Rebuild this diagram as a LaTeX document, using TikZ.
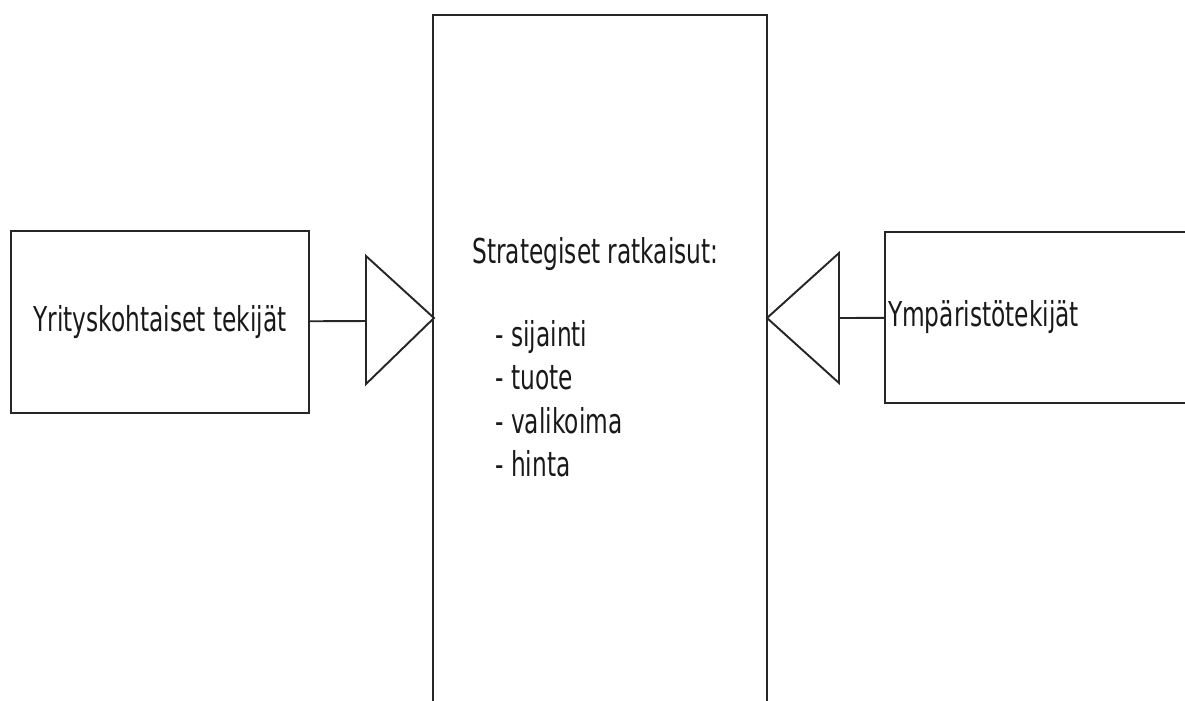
\documentclass[tikz,border=0pt]{standalone}
\usepackage{fontspec}
\setmainfont{DejaVu Sans}[FakeStretch=0.68]
\usetikzlibrary{positioning}
\tikzset{
  >=latex,
}
\tikzstyle{laatikko}=[draw=black!85,line width=1.1pt,rectangle,inner sep=0pt]
\tikzstyle{viiva}=[draw=black!85,line width=1.1pt,line join=miter]
\tikzstyle{teksti}=[inner sep=0pt]
\tikzstyle{every node}=[font=\fontsize{19.5}{24.5}\selectfont,text=black!90]

\begin{document}
\begin{tikzpicture}[x=0.02cm,y=-0.02cm]
    \useasboundingbox (0,0) rectangle (1185,700);
    \node[laatikko,minimum width=5.96cm,minimum height=3.64cm] (yritys) at (160,322) {Yrityskohtaiset tekijät};
    \node[laatikko,minimum width=6.68cm,minimum height=14.2cm] (keski) at (600,370) {};
    \node[laatikko,minimum height=3.42cm,text width=6.18cm,inner xsep=0.06cm,align=left] (ymparisto) at (1042.5,317.5) {Ympäristötekijät};
    \node[teksti,anchor=base west] (otsikko) at (472,263) {Strategiset ratkaisut:};
    \foreach \kohta [count=\i] in {sijainti,tuote,valikoima,hinta}
      \node[teksti,anchor=base west] (kohta\i) at (495,302.5+43.5*\i) {- \kohta};
    % kolmiot keskilaatikon reunoilla
    \coordinate (kanta1) at (366,321);
    \coordinate (kanta2) at (839,318);
    \draw[viiva] (366,256) -- (434,318) -- (366,384) -- cycle;
    \draw[viiva] (839,253) -- (767,318) -- (839,383) -- cycle;
    \draw[viiva] (yritys) -- (kanta1);
    \draw[viiva] (kanta2) -- (ymparisto);
\end{tikzpicture}
\end{document}
